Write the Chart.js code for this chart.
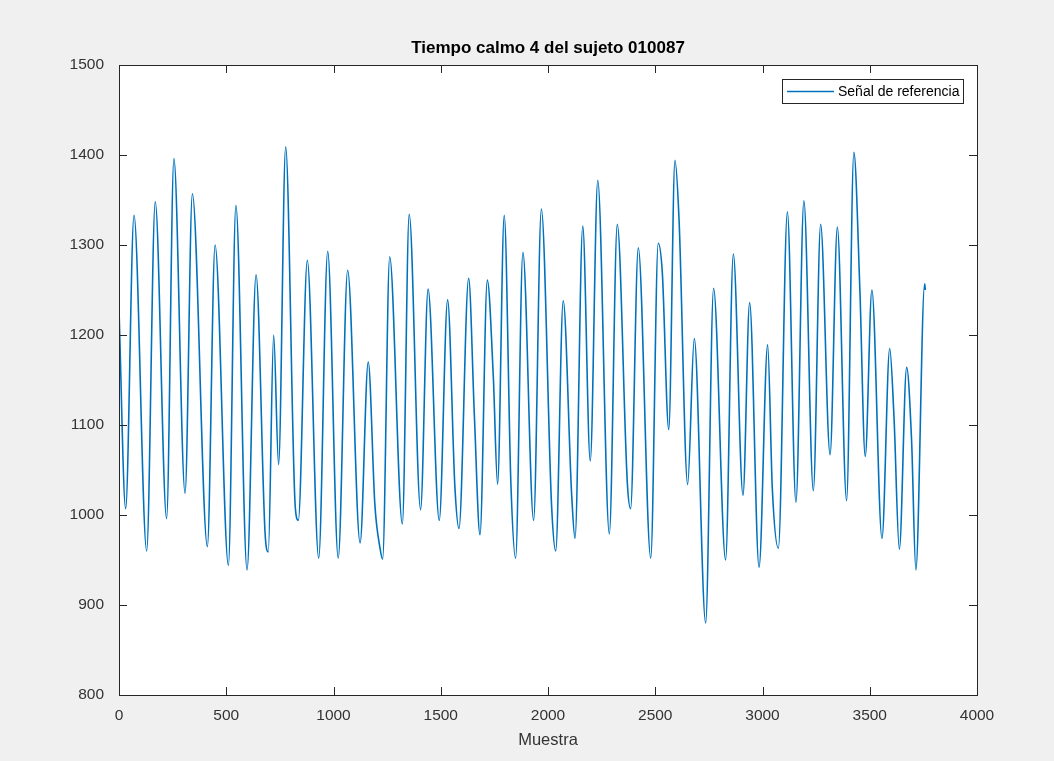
<!DOCTYPE html>
<html>
<head>
<meta charset="utf-8">
<title>Tiempo calmo 4 del sujeto 010087</title>
<script src="https://cdn.jsdelivr.net/npm/chart.js@4.4.1/dist/chart.umd.min.js"></script>
<style>
  html, body { margin: 0; padding: 0; background: #f0f0f0; }
  canvas { display: block; }
</style>
</head>
<body>
<canvas id="grafico" width="1054" height="761"></canvas>
<script>
// Datos: picos, valles y hombros de la señal
const muestras = [0, 31, 70, 129, 169, 222, 256, 308, 342, 412, 448, 510, 545, 597, 639, 681, 696, 721, 744, 777,
    822, 836, 878, 931, 973, 1022, 1066, 1124, 1162, 1193, 1217, 1229, 1262, 1321, 1353, 1406, 1441, 1493, 1532,
    1566, 1585, 1630, 1657, 1683, 1717, 1745, 1765, 1796, 1827, 1849, 1883, 1933, 1969, 2017, 2036, 2071, 2110,
    2126, 2162, 2197, 2232, 2286, 2323, 2370, 2385, 2421, 2479, 2514, 2533, 2563, 2592, 2611, 2651, 2682, 2735,
    2772, 2828, 2864, 2909, 2940, 2984, 3024, 3046, 3074, 3116, 3156, 3193, 3237, 3271, 3315, 3349, 3392, 3426,
    3454, 3479, 3510, 3557, 3593, 3613, 3638, 3672, 3695, 3715, 3756, 3759];
const senal = [1228, 1007, 1333, 960, 1348, 996, 1396, 1024, 1357, 965, 1300, 944, 1344, 939, 1267, 980, 959, 1200, 1056, 1409,
    1008, 994, 1283, 952, 1293, 952, 1272, 969, 1170, 1011, 963, 951, 1287, 990, 1334, 1006, 1251, 994, 1239,
    1031, 985, 1263, 1109, 978, 1261, 1154, 1034, 1333, 1035, 952, 1292, 994, 1340, 1009, 960, 1238, 1024,
    974, 1321, 1060, 1372, 979, 1323, 1035, 1007, 1297, 952, 1302, 1269, 1095, 1394, 1328, 1034, 1196, 880,
    1252, 950, 1290, 1022, 1236, 942, 1189, 1028, 963, 1337, 1014, 1349, 1027, 1323, 1067, 1320, 1016, 1403,
    1250, 1065, 1250, 974, 1185, 1109, 962, 1164, 1083, 939, 1257, 1250];

const ticksX = [0, 500, 1000, 1500, 2000, 2500, 3000, 3500, 4000];
const ticksY = [800, 900, 1000, 1100, 1200, 1300, 1400, 1500];

const TITULO = 'Tiempo calmo 4 del sujeto 010087';
const FUENTE = "'Liberation Sans', Arial, Helvetica, sans-serif";
const COLOR_EJE = '#262626';

// Fondo blanco del área, título centrado, caja, marcas hacia dentro y leyenda (estilo MATLAB)
const estiloMatlab = {
    id: 'estiloMatlab',
    beforeDraw(chart) {
        const { ctx, chartArea: a } = chart;
        ctx.save();
        ctx.fillStyle = '#ffffff';
        ctx.fillRect(a.left, a.top, a.right - a.left, a.bottom - a.top);
        ctx.fillStyle = '#000000';
        ctx.font = 'bold 17px ' + FUENTE;
        ctx.textAlign = 'center';
        ctx.textBaseline = 'middle';
        ctx.fillText(TITULO, (a.left + a.right) / 2, a.top - 17);
        ctx.restore();
    },
    afterDraw(chart) {
        const { ctx, chartArea: a, scales } = chart;
        const largo = 8;
        ctx.save();
        ctx.strokeStyle = COLOR_EJE;
        ctx.lineWidth = 1;
        ctx.beginPath();
        ticksX.forEach(v => {
            const px = Math.round(scales.x.getPixelForValue(v)) + 0.5;
            ctx.moveTo(px, a.bottom); ctx.lineTo(px, a.bottom - largo);
            ctx.moveTo(px, a.top); ctx.lineTo(px, a.top + largo);
        });
        ticksY.forEach(v => {
            const py = Math.round(scales.y.getPixelForValue(v)) + 0.5;
            ctx.moveTo(a.left, py); ctx.lineTo(a.left + largo, py);
            ctx.moveTo(a.right, py); ctx.lineTo(a.right - largo, py);
        });
        ctx.stroke();
        ctx.strokeRect(Math.round(a.left) + 0.5, Math.round(a.top) + 0.5,
            Math.round(a.right - a.left), Math.round(a.bottom - a.top));

        // Leyenda
        const ds = chart.data.datasets[0];
        const lx = a.right - 195, ly = a.top + 14, lw = 181, lh = 24;
        ctx.fillStyle = '#ffffff';
        ctx.fillRect(lx, ly, lw, lh);
        ctx.strokeStyle = '#262626';
        ctx.strokeRect(lx + 0.5, ly + 0.5, lw, lh);
        ctx.strokeStyle = ds.borderColor;
        ctx.lineWidth = 1.4;
        ctx.beginPath();
        ctx.moveTo(lx + 5, ly + lh / 2 + 0.5);
        ctx.lineTo(lx + 52, ly + lh / 2 + 0.5);
        ctx.stroke();
        ctx.fillStyle = '#000000';
        ctx.font = '14px ' + FUENTE;
        ctx.textBaseline = 'middle';
        ctx.textAlign = 'left';
        ctx.fillText(ds.label, lx + 56, ly + lh / 2 + 1);
        ctx.restore();
    }
};

const ctx = document.getElementById('grafico').getContext('2d');
new Chart(ctx, {
    type: 'line',
    data: {
        datasets: [{
            label: 'Señal de referencia',
            data: muestras.map((m, i) => ({ x: m, y: senal[i] })),
            borderColor: '#0072BD',
            borderWidth: 1.6,
            pointRadius: 0,
            cubicInterpolationMode: 'monotone',
            fill: false
        }]
    },
    options: {
        responsive: false,
        animation: false,
        layout: { padding: { left: 0, right: 77, top: 65, bottom: 0 } },
        plugins: {
            legend: { display: false },
            tooltip: { enabled: false },
            title: { display: false }
        },
        scales: {
            x: {
                type: 'linear',
                min: 0,
                max: 4000,
                afterBuildTicks: s => { s.ticks = ticksX.map(v => ({ value: v })); },
                afterFit: s => { s.height = 66; },
                grid: { display: false },
                border: { display: false },
                ticks: {
                    color: '#333333', font: { family: FUENTE, size: 15.5 }, padding: 3, maxRotation: 0,
                    callback: v => String(v)
                },
                title: {
                    display: true,
                    text: 'Muestra',
                    color: '#333333',
                    font: { family: FUENTE, size: 16.5 },
                    padding: { top: 0, bottom: 11 }
                }
            },
            y: {
                type: 'linear',
                min: 800,
                max: 1500,
                afterBuildTicks: s => { s.ticks = ticksY.map(v => ({ value: v })); },
                afterFit: s => { s.width = 119; },
                grid: { display: false },
                border: { display: false },
                ticks: {
                    color: '#333333', font: { family: FUENTE, size: 15.5 }, padding: 7,
                    callback: v => String(v)
                }
            }
        }
    },
    plugins: [estiloMatlab]
});
</script>
</body>
</html>
